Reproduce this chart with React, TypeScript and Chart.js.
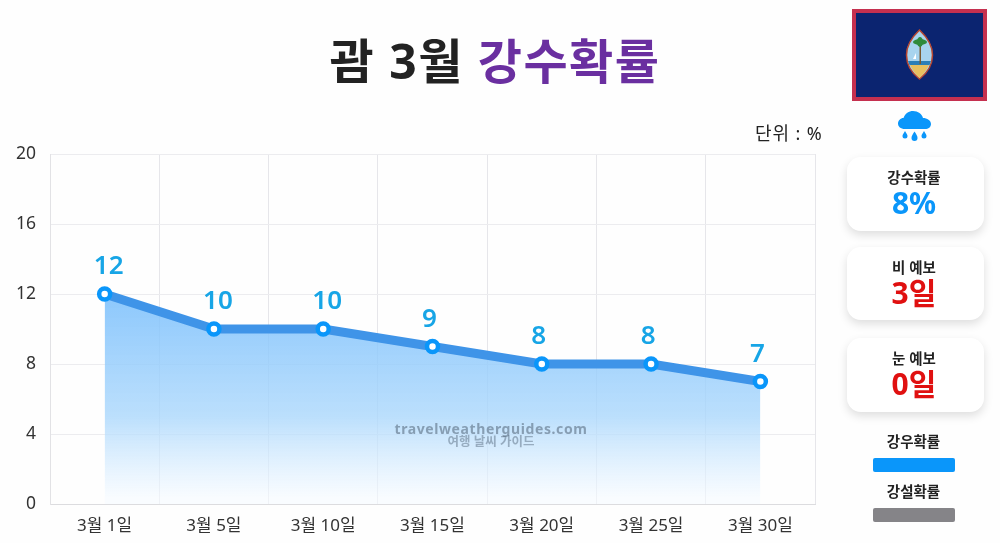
import { useEffect, useRef } from 'react';
import { Chart, registerables } from 'chart.js';

Chart.register(...registerables);

const days = ['3월 1일', '3월 5일', '3월 10일', '3월 15일', '3월 20일', '3월 25일', '3월 30일'];
const rainChance = [12, 10, 10, 9, 8, 8, 7];
const yMax = 20;
const yStep = 4;

const FONT = '"Noto Sans", "Noto Sans CJK KR", sans-serif';

// value labels above each point
const valueLabels = {
  id: 'valueLabels',
  afterDatasetsDraw(chart: Chart) {
    const ctx = chart.ctx;
    const meta = chart.getDatasetMeta(0);
    ctx.save();
    ctx.font = `600 26px ${FONT}`;
    ctx.fillStyle = '#17a5e6';
    ctx.textAlign = 'center';
    ctx.textBaseline = 'middle';
    meta.data.forEach((pt, i) => {
      const nudge = rainChance[i] >= 10 ? 4 : -3;
      ctx.fillText(String(rainChance[i]), pt.x + nudge, pt.y - 27);
    });
    ctx.restore();
  },
};

function StatCard({ top, height, label, value, color }: { top: number; height: number; label: string; value: string; color: string }) {
  return (
    <div
      style={{
        position: 'absolute',
        left: 847,
        top,
        width: 137,
        height,
        borderRadius: 14,
        background: '#fff',
        boxShadow: '0 4px 10px rgba(0,0,0,0.13)',
        textAlign: 'center',
      }}
    >
      <div style={{ position: 'absolute', width: 134, top: 10, fontSize: 14.5, lineHeight: '20px', fontWeight: 600, color: '#222' }}>{label}</div>
      <div style={{ position: 'absolute', width: 134, top: 26, fontSize: 30, lineHeight: '40px', fontWeight: 700, color }}>{value}</div>
    </div>
  );
}

function LegendItem({ top, label, color }: { top: number; label: string; color: string }) {
  return (
    <>
      <div style={{ position: 'absolute', left: 847, width: 133, top, textAlign: 'center', fontSize: 14.5, lineHeight: '20px', fontWeight: 600, color: '#222' }}>{label}</div>
      <div style={{ position: 'absolute', left: 873, top: top + 27, width: 82, height: 14, borderRadius: 2, background: color }} />
    </>
  );
}

export default function App() {
  const canvasRef = useRef<HTMLCanvasElement>(null);

  useEffect(() => {
    document.body.style.margin = '0';
    const ctx = canvasRef.current?.getContext('2d');
    if (!ctx) return;

    const fill = ctx.createLinearGradient(0, 294, 0, 498);
    fill.addColorStop(0, 'rgba(120,190,252,0.85)');
    fill.addColorStop(0.6, 'rgba(170,215,252,0.8)');
    fill.addColorStop(1, 'rgba(245,250,255,0.6)');

    const chart = new Chart(ctx, {
      type: 'line',
      data: {
        labels: days,
        datasets: [
          {
            data: rainChance,
            borderColor: '#3f94e8',
            borderWidth: 9,
            backgroundColor: fill,
            fill: 'origin',
            tension: 0,
            pointRadius: 5.5,
            pointBorderWidth: 4.5,
            pointBorderColor: '#0a96fa',
            pointBackgroundColor: '#ffffff',
          },
        ],
      },
      options: {
        responsive: false,
        animation: false,
        layout: { padding: { left: 0, top: 154, right: 185, bottom: 0 } },
        plugins: { legend: { display: false }, tooltip: { enabled: false } },
        scales: {
          x: {
            offset: true,
            afterFit: (s: any) => {
              s.height = 39;
            },
            grid: { color: '#e6e6ea', drawTicks: false, offset: true },
            border: { color: '#dcdcdf' },
            ticks: { color: '#333', font: { size: 17, family: FONT }, padding: 12, maxRotation: 0 },
          },
          y: {
            min: 0,
            max: yMax,
            afterFit: (s: any) => {
              s.width = 50;
            },
            grid: { color: '#ececef', drawTicks: false },
            border: { color: '#e2e2e5' },
            ticks: { stepSize: yStep, color: '#333', font: { size: 17.5, family: FONT }, padding: 14 },
          },
        },
      },
      plugins: [valueLabels],
    });

    return () => chart.destroy();
  }, []);

  return (
    <div style={{ position: 'absolute', left: 0, top: 0, width: 1000, height: 543, overflow: 'hidden', background: '#fefefe', fontFamily: FONT }}>
      <canvas ref={canvasRef} width={1000} height={543} style={{ position: 'absolute', left: 0, top: 0, display: 'block' }} />

      <div style={{ position: 'absolute', left: 0, width: 990, top: 26, textAlign: 'center', fontSize: 48, lineHeight: '70px', fontWeight: 700, letterSpacing: 1.5, color: '#222' }}>
        괌 3월 <span style={{ color: '#6a2fa0' }}>강수확률</span>
      </div>
      <div style={{ position: 'absolute', left: 755, top: 120, fontSize: 18, lineHeight: '26px', letterSpacing: 0.9, color: '#222' }}>단위 : %</div>

      <div style={{ position: 'absolute', left: 385, width: 212, top: 421, textAlign: 'center', fontSize: 14, lineHeight: '16px', fontWeight: 700, letterSpacing: 0.6, color: 'rgba(90,110,130,0.6)' }}>travelweatherguides.com</div>
      <div style={{ position: 'absolute', left: 395, width: 192, top: 434, textAlign: 'center', fontSize: 12.5, lineHeight: '16px', fontWeight: 700, color: 'rgba(90,110,130,0.5)' }}>여행 날씨 가이드</div>

      {/* flag */}
      <div style={{ position: 'absolute', left: 852, top: 9, width: 135, height: 92, boxSizing: 'border-box', border: '4px solid #c5304f', background: '#0b2470' }}>
        <svg width="127" height="84" style={{ position: 'absolute', left: 0, top: 0 }}>
          <path d="M63.5 17 C54 26 50.5 33 50.5 42 C50.5 53 57 61 63.5 66 C70 61 76.5 53 76.5 42 C76.5 33 73 26 63.5 17 Z" fill="#a8d4ee" stroke="#b8452f" strokeWidth="1.5" />
          <path d="M54 52 L73 52 C70 58 67 62 63.5 65 C60 62 57 58 54 52 Z" fill="#e8c060" />
          <path d="M52 48 H75 L73.5 52 H53.5 Z" fill="#2b7fb8" />
          <rect x="63.5" y="31" width="1.5" height="20" fill="#7a5a30" />
          <ellipse cx="64" cy="29" rx="7" ry="3" fill="#2f8a3a" />
          <ellipse cx="64" cy="29" rx="3" ry="5" fill="#2f8a3a" />
          <path d="M57 46 L60 40 V46 Z" fill="#ffffff" />
        </svg>
      </div>

      {/* rain icon */}
      <svg width="36" height="32" viewBox="0 0 36 32" style={{ position: 'absolute', left: 897, top: 110 }}>
        <path d="M8 19 C3.5 19 1 16.5 1 13.5 C1 10.5 3.5 8 6.5 8 C8 3.5 12 1 16 1 C21 1 25 4 26 8 C30 8 34 10.5 34 14 C34 17 31.5 19 28 19 Z" fill="#0a96fa" />
        <path d="M8 21 C9.5 23.5 10.5 24.5 10.5 26 A2.5 2.5 0 0 1 5.5 26 C5.5 24.5 6.5 23.5 8 21 Z" fill="#0a96fa" />
        <path d="M17.5 21.5 C19.5 24.5 20.5 26 20.5 28 A3 3 0 0 1 14.5 28 C14.5 26 15.5 24.5 17.5 21.5 Z" fill="#0a96fa" />
        <path d="M27 21 C28.5 23.5 29.5 24.5 29.5 26 A2.5 2.5 0 0 1 24.5 26 C24.5 24.5 25.5 23.5 27 21 Z" fill="#0a96fa" />
      </svg>

      <StatCard top={157} height={74} label="강수확률" value="8%" color="#0a96fa" />
      <StatCard top={247} height={73} label="비 예보" value="3일" color="#e01010" />
      <StatCard top={338} height={74} label="눈 예보" value="0일" color="#e01010" />

      <LegendItem top={431} label="강우확률" color="#0a96fa" />
      <LegendItem top={481} label="강설확률" color="#858488" />
    </div>
  );
}
